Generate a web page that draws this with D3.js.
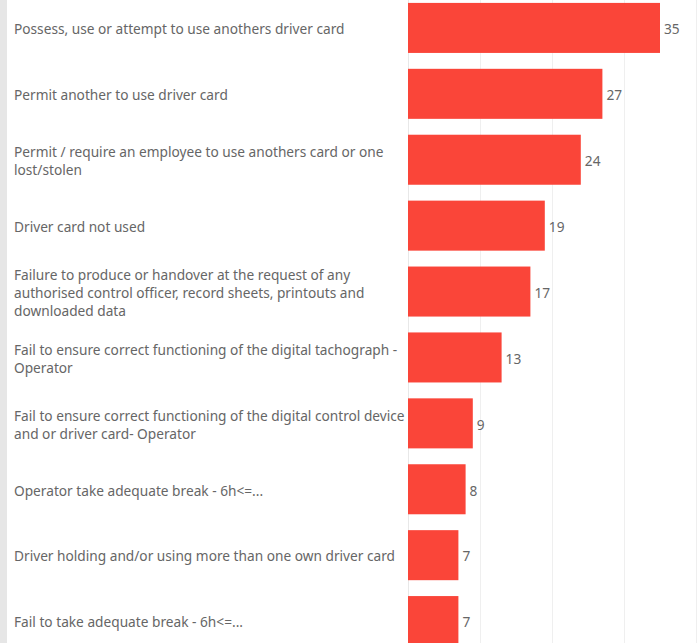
<!DOCTYPE html>
<html><head><meta charset="utf-8">
<script src="https://cdn.jsdelivr.net/npm/d3@7"></script>
<style>html,body{margin:0;padding:0;background:#fff;overflow:hidden}</style>
</head><body><svg id="c" width="697" height="643"></svg>
<script>
const categories = [
  "Possess, use or attempt to use anothers driver card",
  "Permit another to use driver card",
  "Permit / require an employee to use anothers card or one lost/stolen",
  "Driver card not used",
  "Failure to produce or handover at the request of any authorised control officer, record sheets, printouts and downloaded data",
  "Fail to ensure correct functioning of the digital tachograph - Operator",
  "Fail to ensure correct functioning of the digital control device and or driver card- Operator",
  "Operator take adequate break - 6h<=...",
  "Driver holding and/or using more than one own driver card",
  "Fail to take adequate break - 6h<=..."
];
const values = [35, 27, 24, 19, 17, 13, 9, 8, 7, 7];
const xTicks = [0, 10, 20, 30, 40];

const svg = d3.select("#c");
const W = 697, H = 643;
const x0 = 408;
const FONT = "13.7px 'Noto Sans', sans-serif";
const x = d3.scaleLinear().domain([0, 40]).range([x0, x0 + 288]);
const y = d3.scaleBand().domain(categories).range([-5, -5 + 65.9 * categories.length]).paddingInner(0.241).paddingOuter(0.12);

svg.append("rect").attr("x", 0).attr("y", 0).attr("width", 7).attr("height", H).attr("fill", "#e6e6e6");

svg.append("g").selectAll("line").data(xTicks.filter(d => d > 0)).join("line")
  .attr("x1", d => Math.round(x(d)) + 0.5).attr("x2", d => Math.round(x(d)) + 0.5)
  .attr("y1", 0).attr("y2", H).attr("stroke", "#efefef").attr("stroke-width", 1);
svg.append("line").attr("x1", x0 + 0.5).attr("x2", x0 + 0.5).attr("y1", 0).attr("y2", H)
  .attr("stroke", "#e8e8e8");

svg.append("g").selectAll("rect").data(categories).join("rect")
  .attr("x", x(0)).attr("y", d => y(d)).attr("height", y.bandwidth())
  .attr("width", (d, i) => x(values[i]) - x(0)).attr("fill", "#fa4539");

svg.append("g").selectAll("text").data(categories).join("text")
  .attr("x", (d, i) => x(values[i]) + 4).attr("y", d => y(d) + y.bandwidth() / 2 + 1.5)
  .attr("dy", "0.35em").attr("fill", "#666").style("font", FONT)
  .text((d, i) => values[i]);

const maxW = 392.5, lh = 18.3;
const lab = svg.append("g").style("font", FONT).attr("fill", "#666");
categories.forEach(c => {
  const t = lab.append("text").attr("x", 14);
  const words = c.split(" ");
  let lines = [], cur = [];
  const probe = lab.append("text").attr("x", -1000);
  words.forEach(w => {
    const test = cur.concat([w]).join(" ");
    probe.text(test);
    if (probe.node().getComputedTextLength() > maxW && cur.length) { lines.push(cur.join(" ")); cur = [w]; }
    else cur.push(w);
  });
  lines.push(cur.join(" "));
  probe.remove();
  const cy = y(c) + y.bandwidth() / 2 + 1.5;
  lines.forEach((l, k) => {
    t.append("tspan").attr("x", 14).attr("y", cy + (k - (lines.length - 1) / 2) * lh).attr("dy", "0.35em").text(l);
  });
});
</script></body></html>
